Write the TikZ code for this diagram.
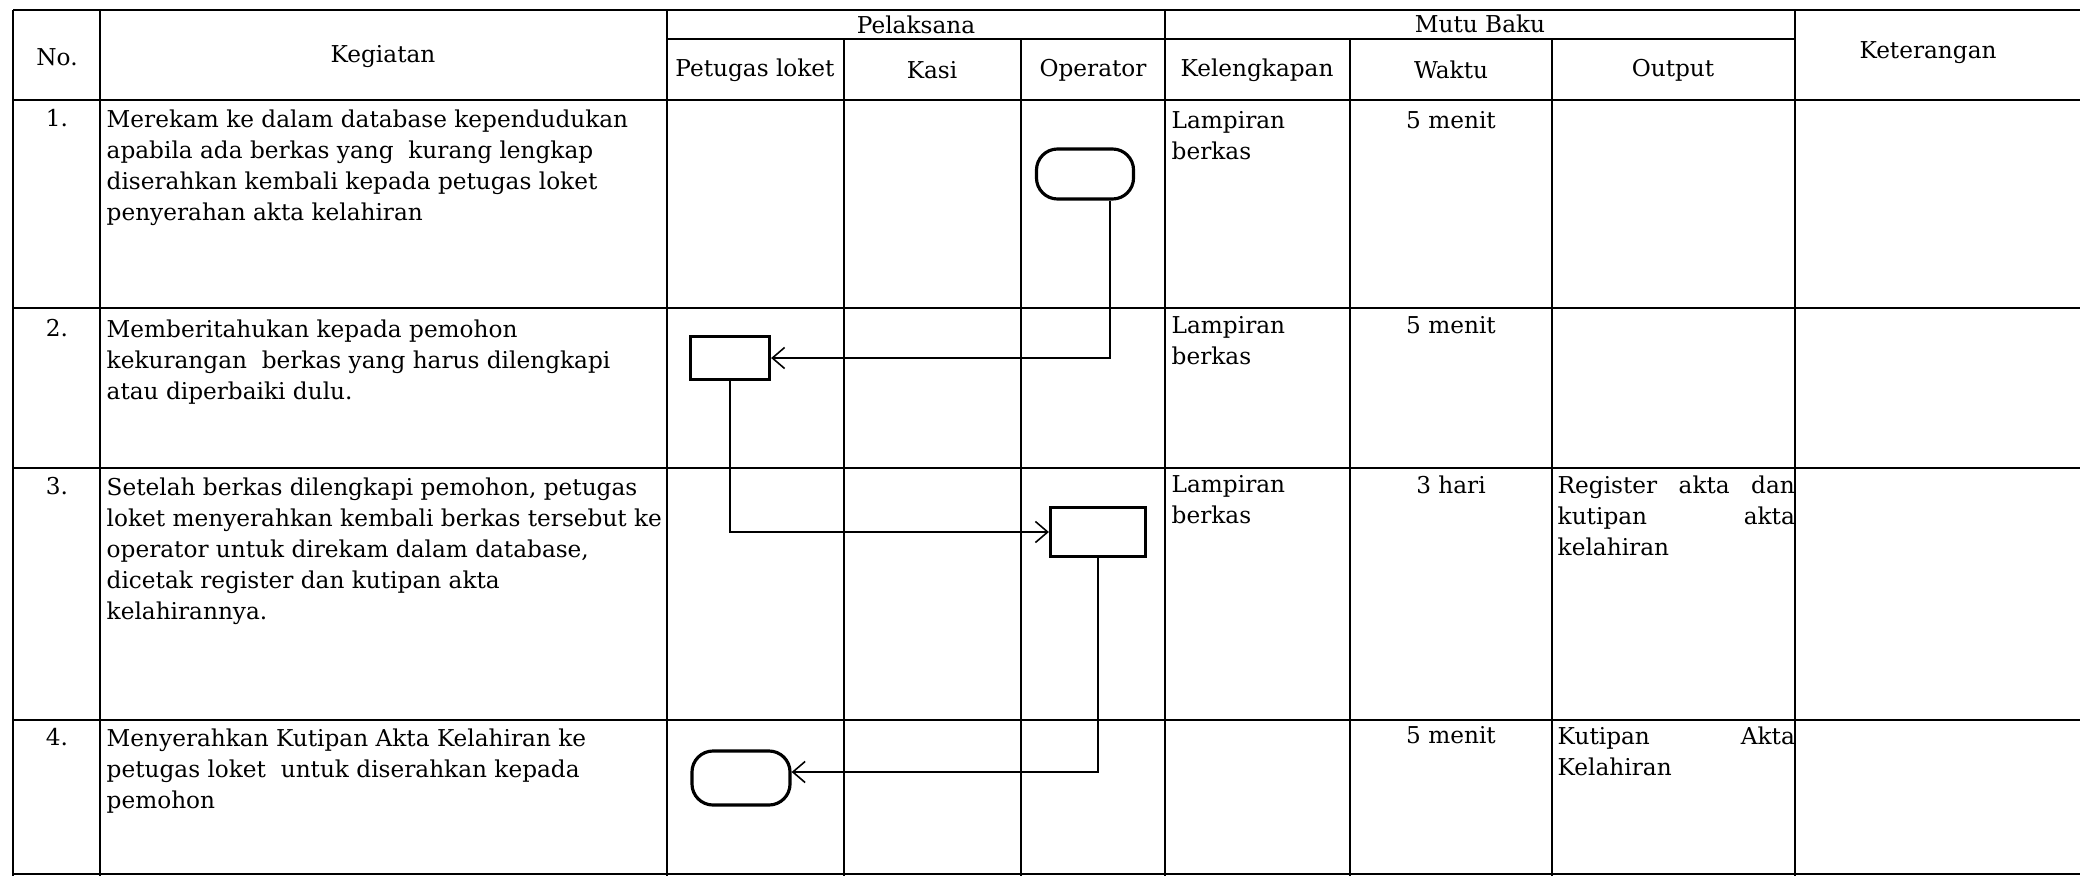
\documentclass[tikz,border=0pt]{standalone}
\usepackage{fontspec}
\setmainfont{DejaVu Serif}
\usetikzlibrary{arrows.meta}

\tikzset{
  tblline/.style={line width=0.75pt},
  cell/.style={font=\fontsize{6.6}{8.8}\selectfont, inner sep=0pt, align=left, anchor=north west},
  head/.style={font=\fontsize{6.6}{8.8}\selectfont, inner sep=0pt},
  terminal/.style={draw, line width=0.9pt, rounded corners=6pt, inner sep=0pt},
  process/.style={draw, line width=0.9pt, inner sep=0pt},
  flow/.style={line width=0.45pt, -{Straight Barb[length=3.5pt,width=6pt]}}
}

\begin{document}
\begin{tikzpicture}[x=0.01cm, y=-0.01cm]
\useasboundingbox (0,0) rectangle (2080,876);

\draw[tblline] (13,10) -- (2080,10);
\draw[tblline] (667,39) -- (1795,39);
\foreach \y in {100,308,468,720,874}
  \draw[tblline] (13,\y) -- (2080,\y);
\foreach \x in {13,100,667,1165,1795}
  \draw[tblline] (\x,10) -- (\x,876);
\foreach \x in {844,1021,1350,1552}
  \draw[tblline] (\x,39) -- (\x,876);

\node[head] (hno) at (57,57) {No.};
\node[head] (hkeg) at (383,57) {Kegiatan};
\node[head] (hpel) at (916,25) {Pelaksana};
\node[head] (hloket) at (755,70) {Petugas loket};
\node[head] (hkasi) at (932,70) {Kasi};
\node[head] (hop) at (1093,70) {Operator};
\node[head] (hmutu) at (1480,24) {Mutu Baku};
\node[head] (hkel) at (1257,70) {Kelengkapan};
\node[head] (hwaktu) at (1451,70) {Waktu};
\node[head] (hout) at (1673,70) {Output};
\node[head] (hket) at (1928,53) {Keterangan};

\node[cell, anchor=north] (no1) at (57,109) {1.};
\node[cell] (keg1) at (106,109) {Merekam ke dalam database kependudukan\\
  apabila ada berkas yang \ kurang lengkap\\
  diserahkan kembali kepada petugas loket\\
  penyerahan akta kelahiran};
\node[cell] (kel1) at (1171,111) {Lampiran\\berkas};
\node[cell, anchor=north] (wkt1) at (1451,111) {5 menit};

\node[cell, anchor=north] (no2) at (57,319) {2.};
\node[cell] (keg2) at (106,319) {Memberitahukan kepada pemohon\\
  kekurangan \ berkas yang harus dilengkapi\\
  atau diperbaiki dulu.};
\node[cell] (kel2) at (1171,316) {Lampiran\\berkas};
\node[cell, anchor=north] (wkt2) at (1451,316) {5 menit};

\node[cell, anchor=north] (no3) at (57,477) {3.};
\node[cell] (keg3) at (106,477) {Setelah berkas dilengkapi pemohon, petugas\\
  loket menyerahkan kembali berkas tersebut ke\\
  operator untuk direkam dalam database,\\
  dicetak register dan kutipan akta\\
  kelahirannya.};
\node[cell] (kel3) at (1171,475) {Lampiran\\berkas};
\node[cell, anchor=north] (wkt3) at (1451,475) {3 hari};
\node[cell, text width=2.37cm] (out3) at (1557,475) {Register\hfill akta\hfill dan\\
  kutipan\hfill akta\\
  kelahiran};

\node[cell, anchor=north] (no4) at (57,728) {4.};
\node[cell] (keg4) at (106,728) {Menyerahkan Kutipan Akta Kelahiran ke\\
  petugas loket \ untuk diserahkan kepada\\
  pemohon};
\node[cell, anchor=north] (wkt4) at (1451,726) {5 menit};
\node[cell, text width=2.37cm] (out4) at (1557,726) {Kutipan\hfill Akta\\
  Kelahiran};

\node[terminal, minimum width=0.97cm, minimum height=0.5cm] (opstart) at (1085,174) {};
\node[process, minimum width=0.79cm, minimum height=0.43cm] (loketinfo) at (730,358) {};
\node[process, minimum width=0.95cm, minimum height=0.49cm] (oprekam) at (1098,532) {};
\node[terminal, minimum width=0.98cm, minimum height=0.54cm] (loketend) at (741,778) {};

\draw[flow] ([xshift=0.25cm]opstart.south) |- (loketinfo.east);
\draw[flow] (loketinfo.south) |- (oprekam.west);
\draw[flow] (oprekam.south) |- ([yshift=0.06cm]loketend.east);
\end{tikzpicture}
\end{document}
